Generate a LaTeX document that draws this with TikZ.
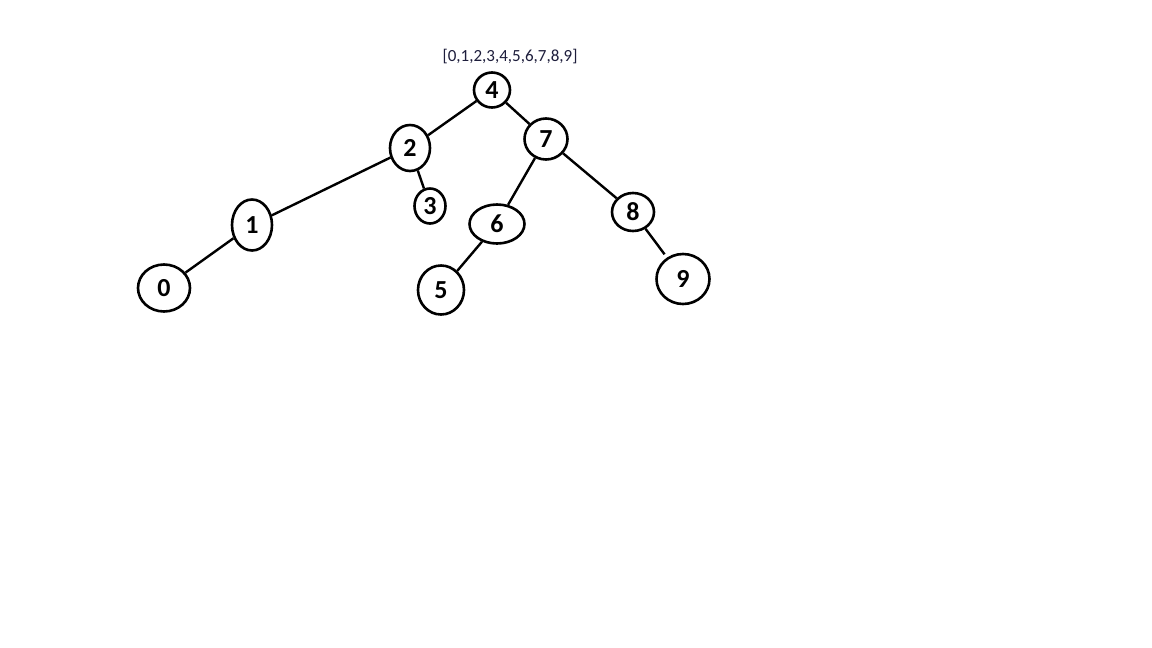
\documentclass[tikz,border=0pt]{standalone}
\usepackage{fontspec}
\setmainfont{Carlito}
\usetikzlibrary{shapes.geometric}
\definecolor{labelcol}{RGB}{30,30,60}
\tikzset{
  vtx/.style={draw=black, line width=2.6pt, ellipse, inner sep=0pt, font=\fontsize{26}{26}\selectfont\bfseries},
  edge/.style={draw=black, line width=2.4pt}
}
\begin{document}
\begin{tikzpicture}[x=1pt,y=-1pt]
\useasboundingbox[fill=white] (0,0) rectangle (1152,648);
\node[font=\fontsize{17}{17}\selectfont, text=labelcol] (lbl) at (510,57) {[0,1,2,3,4,5,6,7,8,9]};
\node[vtx, minimum width=36pt, minimum height=35pt] (n4) at (492,90) {4};
\node[vtx, minimum width=43pt, minimum height=41pt] (n7) at (546,139) {7};
\node[vtx, minimum width=40pt, minimum height=46pt] (n2) at (410,148) {2};
\node[vtx, minimum width=31pt, minimum height=35pt] (n3) at (430,206) {3};
\node[vtx, minimum width=55pt, minimum height=39pt] (n6) at (497,224) {6};
\node[vtx, minimum width=46pt, minimum height=49pt] (n5) at (441,290) {5};
\node[vtx, minimum width=42pt, minimum height=38pt] (n8) at (633,212) {8};
\node[vtx, minimum width=53pt, minimum height=50pt] (n9) at (683,279) {9};
\node[vtx, minimum width=40pt, minimum height=51pt] (n1) at (252,225) {1};
\node[vtx, minimum width=52pt, minimum height=47pt] (n0) at (164,288) {0};
\draw[edge] (n4) -- (n2);
\draw[edge] (n4) -- (n7);
\draw[edge] (n2) -- (n1);
\draw[edge] (n2) -- (n3);
\draw[edge] (n1) -- (n0);
\draw[edge] (n7) -- (n6);
\draw[edge] (n7) -- (n8);
\draw[edge] (n6) -- (n5);
\draw[edge, shorten >=4pt] (n8) -- (n9);
\end{tikzpicture}
\end{document}
